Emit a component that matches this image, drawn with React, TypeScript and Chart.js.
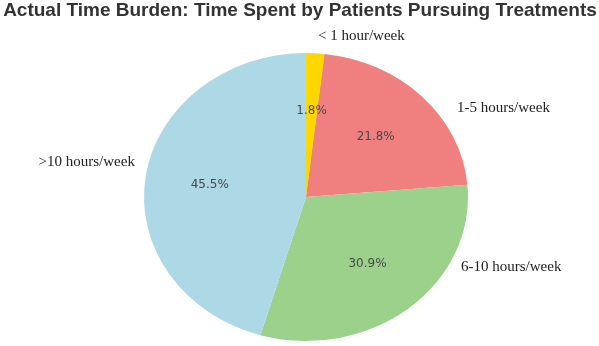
import React, { useEffect, useRef } from "react";
import { Chart, registerables } from "chart.js";

Chart.register(...registerables);

const categories = ["< 1 hour/week", "1-5 hours/week", "6-10 hours/week", ">10 hours/week"];
const counts = [1, 12, 17, 25];
const colors = ["#FFD700", "#F08080", "#9BD18A", "#ADD8E6"];
const titleText = "Actual Time Burden: Time Spent by Patients Pursuing Treatments";

// outside label anchors, in units of the pie's horizontal / vertical radius
const labelAnchors: [number, number, CanvasTextAlign][] = [
  [0.074, -1.118, "left"],
  [0.932, -0.618, "left"],
  [0.957, 0.486, "left"],
  [-1.056, -0.243, "right"],
];

const W = 599;
const H = 346;
const STRETCH = 1.125;
const RADIUS = 144;

export default function App() {
  const ref = useRef<HTMLCanvasElement | null>(null);
  useEffect(() => {
    if (!ref.current) return;
    const total = counts.reduce((a, b) => a + b, 0);
    const stretchPlugin = {
      id: "stretch",
      beforeDatasetsDraw(chart: any) {
        const ctx = chart.ctx;
        const a = chart.chartArea;
        const cx = (a.left + a.right) / 2;
        ctx.save();
        ctx.translate(cx, 0);
        ctx.scale(STRETCH, 1);
        ctx.translate(-cx, 0);
      },
      afterDatasetsDraw(chart: any) {
        chart.ctx.restore();
      },
      afterDraw(chart: any) {
        const ctx = chart.ctx;
        const meta = chart.getDatasetMeta(0);
        ctx.save();
        // title
        ctx.font = "bold 19px 'Liberation Sans', Arial, sans-serif";
        ctx.fillStyle = "#333333";
        ctx.textAlign = "center";
        ctx.textBaseline = "alphabetic";
        ctx.fillText(titleText, 300, 15.5);
        // percentages
        ctx.font = "12px 'DejaVu Sans', sans-serif";
        ctx.fillStyle = "#484848";
        ctx.textBaseline = "middle";
        meta.data.forEach((arc: any, i: number) => {
          const mid = (arc.startAngle + arc.endAngle) / 2;
          const r = arc.outerRadius * 0.6;
          const x = arc.x + Math.cos(mid) * r * STRETCH;
          const y = arc.y + Math.sin(mid) * r;
          ctx.fillText(((counts[i] / total) * 100).toFixed(1) + "%", x, y);
        });
        // category labels
        ctx.font = "15px 'Liberation Serif', 'Times New Roman', serif";
        ctx.fillStyle = "#222222";
        const arc0 = meta.data[0];
        meta.data.forEach((_: any, i: number) => {
          const [nx, ny, align] = labelAnchors[i];
          ctx.textAlign = align;
          ctx.fillText(
            categories[i],
            arc0.x + nx * arc0.outerRadius * STRETCH,
            arc0.y + ny * arc0.outerRadius
          );
        });
        ctx.restore();
      },
    };
    const chart = new Chart(ref.current, {
      type: "pie",
      data: {
        labels: categories,
        datasets: [
          {
            data: counts,
            backgroundColor: colors,
            borderWidth: 0,
            clip: false,
          } as any,
        ],
      },
      options: {
        responsive: false,
        animation: false,
        devicePixelRatio: 1,
        radius: RADIUS,
        layout: { padding: { top: 53, bottom: 5, left: 156, right: 143 } },
        plugins: {
          legend: { display: false },
          title: { display: false },
          tooltip: { enabled: false },
        },
      } as any,
      plugins: [stretchPlugin],
    });
    return () => chart.destroy();
  }, []);
  return (
    <div style={{ position: "fixed", left: 0, top: 0, width: W, height: H, background: "#fff" }}>
      <canvas ref={ref} width={W} height={H} style={{ width: W, height: H, display: "block" }} />
    </div>
  );
}
